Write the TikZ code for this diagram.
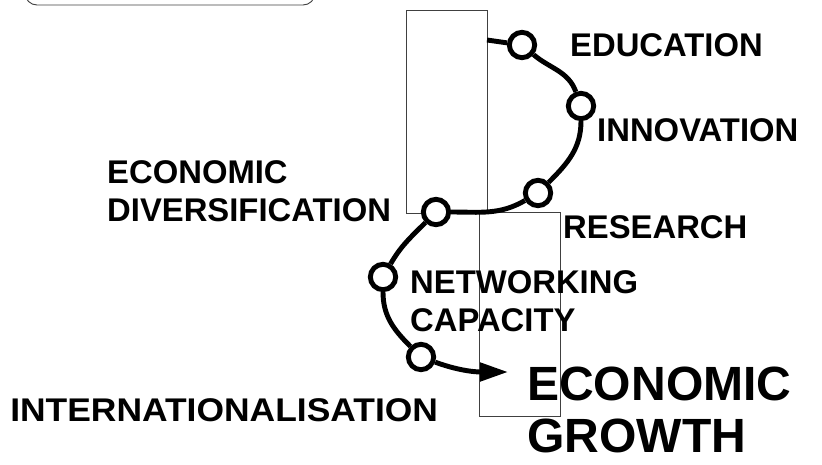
\documentclass[tikz,border=0pt]{standalone}
\usepackage{fontspec}
\setmainfont{Liberation Sans}
\usetikzlibrary{arrows.meta}

\tikzset{
	ring/.style={circle,draw,line width=4.2pt,minimum size=0.76cm,inner sep=0pt,fill=white},
	lbl/.style={inner sep=0pt,font=\fontsize{28}{32.4}\selectfont\bfseries,align=left},
	biglbl/.style={inner sep=0pt,font=\fontsize{41}{44}\selectfont\bfseries,align=left},
	frame/.style={draw=black!75,line width=0.8pt}
}

\begin{document}
\begin{tikzpicture}[x=0.03cm,y=0.03cm]
		\useasboundingbox (0,0) rectangle (822,464);
		\clip (0,0) rectangle (822,464);
		\draw[frame,rounded corners=0.36cm] (25,520) rectangle (315,459);
		\draw[frame] (406,454) rectangle (487,251);
		\draw[frame] (479,252) rectangle (560,48);
		%
		\node[ring] (C1) at (522,419) {};
		\node[ring] (C2) at (581,358) {};
		\node[ring] (C3) at (538,271) {};
		\node[ring] (C4) at (436,252) {};
		\node[ring] (C5) at (383,187) {};
		\node[ring] (C6) at (421,107) {};
		\coordinate (S) at (487,424);
		\coordinate (T) at (508,92);
		%
		\node[lbl,anchor=west] (edu) at (570,419) {EDUCATION};
		\node[lbl,anchor=west] (inno) at (597,334) {INNOVATION};
		\node[lbl,anchor=west] (res) at (563,237) {RESEARCH};
		\node[lbl,anchor=north west] (div) at (107,304) {ECONOMIC\\DIVERSIFICATION};
		\node[lbl,anchor=north west] (net) at (410,194) {NETWORKING\\CAPACITY};
		\node[lbl,anchor=west,xscale=1.08,transform shape] (intl) at (10,54) {INTERNATIONALISATION};
		\node[biglbl,anchor=north west] (grow) at (527,97) {ECONOMIC\\GROWTH};
		%
		\path[line width=4.2pt]
		(S) edge (C1)
		(C1) edge[out=-40,in=110] (C2)
		(C2) edge[out=-90,in=45] (C3)
		(C3) edge[out=-150,in=0] (C4)
		(C4) edge[out=-135,in=60] (C5)
		(C5) edge[out=-90,in=135] (C6)
		(C6) edge[out=-20,in=180,-{Triangle[length=0.84cm,width=0.54cm]}] (T);
\end{tikzpicture}
\end{document}
